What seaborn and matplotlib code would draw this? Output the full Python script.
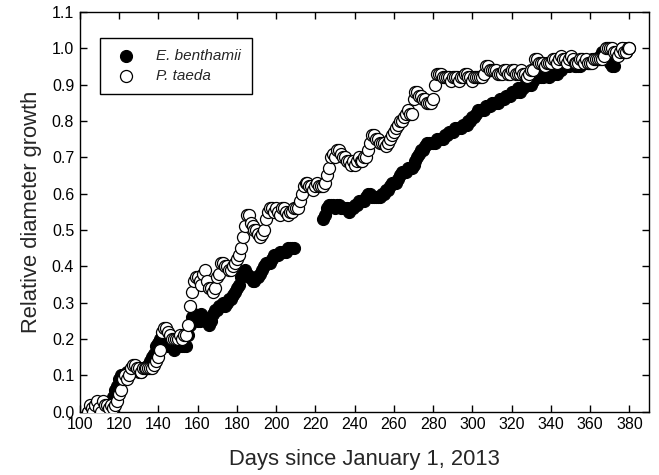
import numpy as np
import pandas as pd
import matplotlib
matplotlib.use("Agg")
import matplotlib.pyplot as plt
import seaborn as sns

# days of observation (daily readings)
days = list(range(104, 381))

# E. benthamii, relative diameter growth (nan = no reading)
benthamii = [
    0.00, 0.00, 0.01, 0.00, 0.00, 0.01, 0.00, 0.00, 0.01, 0.01,
    0.02, 0.02, 0.03, 0.04, 0.06, 0.07, 0.09, 0.10, 0.10, 0.10,
    0.11, 0.11, 0.11, 0.12, 0.12, 0.12, 0.11, 0.11, 0.12, 0.12,
    0.12, 0.13, 0.14, 0.15, 0.16, 0.18, 0.19, 0.20, 0.21, 0.20,
    0.19, 0.18, 0.18, 0.18, 0.17, 0.18, 0.18, 0.18, 0.18, 0.18,
    0.18, 0.21, 0.24, 0.26, 0.27, 0.26, 0.25, 0.25, 0.27, 0.26,
    0.25, 0.25, 0.24, 0.25, 0.27, 0.28, 0.28, 0.29, 0.29, 0.30,
    0.29, 0.30, 0.31, 0.31, 0.32, 0.33, 0.34, 0.35, 0.37, 0.38,
    0.39, 0.38, 0.37, 0.37, 0.36, 0.36, 0.37, 0.37, 0.38, 0.39,
    0.40, 0.41, 0.41, 0.41, 0.42, 0.43, 0.43, 0.43, 0.44, 0.44,
    0.44, 0.44, 0.45, 0.45, 0.45, 0.45, np.nan, np.nan, np.nan, np.nan,
    np.nan, np.nan, np.nan, np.nan, np.nan, np.nan, np.nan, np.nan, np.nan, np.nan,
    0.53, 0.54, 0.56, 0.57, 0.57, 0.57, 0.56, 0.57, 0.57, 0.56,
    0.56, 0.56, 0.56, 0.55, 0.56, 0.56, 0.57, 0.57, 0.58, 0.58,
    0.58, 0.58, 0.59, 0.60, 0.60, 0.59, 0.59, 0.59, 0.59, 0.59,
    0.60, 0.60, 0.61, 0.61, 0.62, 0.63, 0.63, 0.63, 0.64, 0.65,
    0.66, 0.66, 0.66, 0.67, 0.67, 0.67, 0.68, 0.69, 0.70, 0.71,
    0.72, 0.72, 0.73, 0.74, 0.74, 0.74, 0.74, 0.74, 0.75, 0.75,
    0.75, 0.75, 0.76, 0.76, 0.77, 0.77, 0.77, 0.78, 0.78, 0.78,
    0.78, 0.79, 0.79, 0.79, 0.80, 0.80, 0.81, 0.81, 0.82, 0.83,
    0.83, 0.83, 0.83, 0.84, 0.84, 0.84, 0.85, 0.85, 0.85, 0.85,
    0.86, 0.86, 0.86, 0.87, 0.87, 0.87, 0.88, 0.88, 0.88, 0.89,
    0.88, 0.89, 0.89, 0.90, 0.90, 0.90, 0.90, 0.91, 0.92, 0.93,
    0.92, 0.92, 0.92, 0.93, 0.93, 0.92, 0.93, 0.93, 0.93, 0.93,
    0.94, 0.94, 0.95, 0.95, 0.95, 0.95, 0.96, 0.96, 0.95, 0.95,
    0.95, 0.95, 0.96, 0.96, 0.96, 0.96, 0.96, 0.97, 0.97, 0.97,
    0.97, 0.98, 0.99, 0.99, 0.98, 0.97, 0.96, 0.95, 0.95, 0.98,
    0.99, 0.99, 1.00, 1.00, 0.99, 1.00, 1.00,
]

# P. taeda, relative diameter growth
taeda = [
    0.00, 0.02, 0.01, 0.00, 0.02, 0.03, 0.01, 0.00, 0.03, 0.02,
    0.02, 0.01, 0.02, 0.01, 0.02, 0.03, 0.05, 0.06, 0.09, 0.10,
    0.09, 0.10, 0.12, 0.13, 0.13, 0.12, 0.12, 0.11, 0.12, 0.12,
    0.12, 0.12, 0.12, 0.12, 0.13, 0.14, 0.15, 0.17, 0.22, 0.23,
    0.23, 0.22, 0.21, 0.20, 0.20, 0.20, 0.20, 0.21, 0.20, 0.21,
    0.21, 0.24, 0.29, 0.33, 0.36, 0.37, 0.37, 0.36, 0.35, 0.38,
    0.39, 0.36, 0.34, 0.34, 0.33, 0.34, 0.37, 0.38, 0.41, 0.41,
    0.40, 0.40, 0.39, 0.39, 0.40, 0.41, 0.42, 0.43, 0.45, 0.48,
    0.51, 0.54, 0.54, 0.52, 0.51, 0.50, 0.50, 0.49, 0.48, 0.49,
    0.50, 0.53, 0.55, 0.56, 0.56, 0.55, 0.56, 0.55, 0.54, 0.56,
    0.56, 0.55, 0.54, 0.55, 0.55, 0.56, 0.56, 0.56, 0.58, 0.60,
    0.62, 0.63, 0.63, 0.62, 0.62, 0.61, 0.62, 0.63, 0.62, 0.62,
    0.62, 0.63, 0.65, 0.67, 0.70, 0.71, 0.70, 0.72, 0.72, 0.71,
    0.70, 0.70, 0.69, 0.69, 0.68, 0.69, 0.68, 0.69, 0.70, 0.69,
    0.69, 0.70, 0.70, 0.72, 0.74, 0.76, 0.76, 0.75, 0.75, 0.74,
    0.74, 0.74, 0.73, 0.74, 0.75, 0.76, 0.77, 0.78, 0.79, 0.80,
    0.80, 0.81, 0.82, 0.83, 0.82, 0.82, 0.86, 0.88, 0.88, 0.87,
    0.87, 0.86, 0.86, 0.85, 0.85, 0.85, 0.86, 0.90, 0.93, 0.93,
    0.93, 0.92, 0.92, 0.92, 0.92, 0.91, 0.92, 0.92, 0.92, 0.91,
    0.92, 0.92, 0.93, 0.93, 0.92, 0.92, 0.91, 0.92, 0.92, 0.92,
    0.92, 0.92, 0.93, 0.95, 0.95, 0.94, 0.94, 0.94, 0.94, 0.93,
    0.93, 0.93, 0.94, 0.94, 0.93, 0.93, 0.94, 0.94, 0.93, 0.93,
    0.93, 0.94, 0.93, 0.93, 0.92, 0.93, 0.94, 0.94, 0.97, 0.97,
    0.96, 0.96, 0.96, 0.95, 0.96, 0.96, 0.96, 0.97, 0.97, 0.96,
    0.97, 0.98, 0.97, 0.97, 0.96, 0.97, 0.98, 0.97, 0.96, 0.96,
    0.96, 0.97, 0.97, 0.96, 0.97, 0.96, 0.96, 0.96, 0.97, 0.97,
    0.97, 0.97, 0.97, 0.98, 1.00, 1.00, 1.00, 1.00, 0.99, 0.99,
    0.98, 0.99, 1.00, 0.99, 0.99, 1.00, 1.00,
]

x_ticks = list(range(100, 381, 20))
y_ticks = [round(0.1 * i, 1) for i in range(12)]

df = pd.DataFrame({"day": days, "E. benthamii": benthamii, "P. taeda": taeda})

sns.set_style("ticks")
plt.rcParams["font.family"] = ["Liberation Sans", "DejaVu Sans"]

fig, ax = plt.subplots(figsize=(6.59, 4.75), dpi=100)
fig.subplots_adjust(left=0.121, right=0.985, top=0.975, bottom=0.133)

sns.scatterplot(data=df, x="day", y="E. benthamii", ax=ax, s=75,
                color="black", edgecolor="black", linewidth=0.8,
                label="E. benthamii", zorder=2)
sns.scatterplot(data=df, x="day", y="P. taeda", ax=ax, s=75,
                color="white", edgecolor="black", linewidth=0.9,
                label="P. taeda", zorder=3)

ax.set_xlim(100, 390)
ax.set_ylim(0, 1.1)
ax.set_xticks(x_ticks)
ax.set_yticks(y_ticks)
ax.set_yticklabels([f"{v:.1f}" for v in y_ticks])
ax.tick_params(direction="in", length=5, width=1, top=True, right=True,
               labelsize=11.5, colors="black", pad=4)
for sp in ax.spines.values():
    sp.set_linewidth(1)
    sp.set_color("black")

ax.set_xlabel("Days since January 1, 2013", fontsize=15.8, labelpad=12)
ax.set_ylabel("Relative diameter growth", fontsize=15.8, labelpad=7)

leg = ax.legend(loc="upper left", bbox_to_anchor=(0.035, 0.935),
                frameon=True, fancybox=False, framealpha=1,
                edgecolor="black", fontsize=11, borderpad=0.7,
                labelspacing=0.45, handletextpad=1.0, borderaxespad=0)
leg.get_frame().set_linewidth(1)
for t in leg.get_texts():
    t.set_fontstyle("italic")

fig.savefig("out.png", dpi=100)
